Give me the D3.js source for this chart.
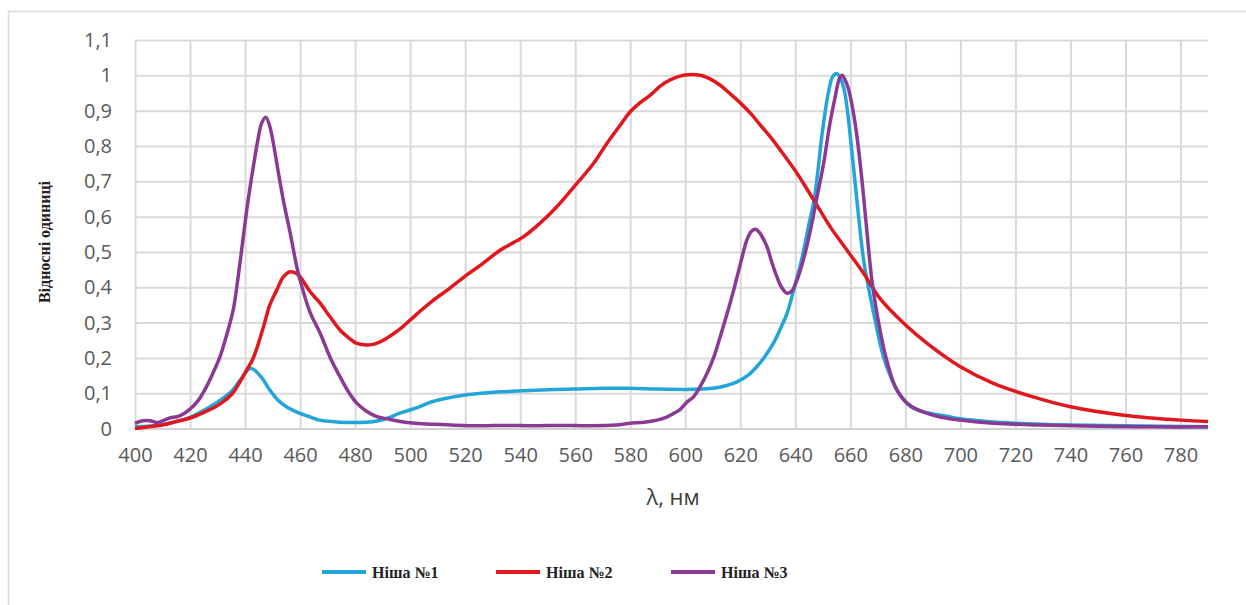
<!DOCTYPE html>
<html>
<head>
<meta charset="utf-8">
<script src="https://cdn.jsdelivr.net/npm/d3@7"></script>
<style>
  body { margin: 0; background: #fff; }
  svg { display: block; }
</style>
</head>
<body>
<div id="chart"></div>
<script>
// tick labels
const xTicks = [400, 420, 440, 460, 480, 500, 520, 540, 560, 580, 600, 620, 640, 660, 680, 700, 720, 740, 760, 780];
const yTicks = [0, 0.1, 0.2, 0.3, 0.4, 0.5, 0.6, 0.7, 0.8, 0.9, 1, 1.1];

// Ніша №1 (blue)
const wl1 = [400, 410, 420, 425, 430, 435, 438, 442, 446, 449, 452, 455, 460, 464, 467, 472, 479, 487, 492, 496, 502, 508, 514, 520, 526, 533, 541, 550, 560, 570, 580, 590, 600, 606, 610, 615, 619, 623, 626, 629, 632, 635, 637, 640, 642, 645, 647, 650, 652, 653.5, 655, 656.5, 658, 661, 663, 665, 668.5, 672, 675, 677, 682, 688, 695, 700, 710, 720, 730, 740, 760, 780, 790];
const niche1 = [0.005, 0.012, 0.032, 0.052, 0.075, 0.105, 0.135, 0.171, 0.145, 0.109, 0.08, 0.062, 0.043, 0.032, 0.024, 0.02, 0.017, 0.02, 0.03, 0.043, 0.058, 0.076, 0.087, 0.095, 0.1, 0.104, 0.107, 0.11, 0.112, 0.114, 0.114, 0.112, 0.111, 0.112, 0.114, 0.122, 0.133, 0.152, 0.175, 0.205, 0.241, 0.29, 0.326, 0.41, 0.468, 0.58, 0.656, 0.85, 0.95, 0.995, 1.005, 0.99, 0.95, 0.751, 0.6, 0.468, 0.326, 0.204, 0.14, 0.109, 0.062, 0.045, 0.035, 0.028, 0.02, 0.015, 0.012, 0.01, 0.008, 0.006, 0.005];

// Ніша №2 (red)
const wl2 = [400, 405, 410, 415, 420, 427, 431, 435.5, 438, 440.6, 443, 446.7, 449, 451.5, 454, 456.4, 458.5, 460, 463.6, 467.3, 471, 474.5, 478, 480.6, 485.5, 488, 491.5, 496, 500, 504, 508.5, 514, 520.6, 526, 532.7, 541.2, 547, 553.3, 560.6, 566.7, 571.5, 576, 580, 584, 587.3, 591, 594.5, 599.4, 605.5, 609, 612.7, 616, 620, 624, 627.3, 631, 634.5, 640.6, 646.7, 652.7, 658.8, 664.8, 670.9, 679.4, 687.9, 700, 712, 725.5, 740, 759.4, 780, 790];
const niche2 = [0.0, 0.005, 0.01, 0.02, 0.03, 0.053, 0.07, 0.1, 0.13, 0.166, 0.2, 0.288, 0.35, 0.392, 0.43, 0.444, 0.44, 0.43, 0.388, 0.355, 0.315, 0.279, 0.255, 0.241, 0.237, 0.242, 0.256, 0.28, 0.307, 0.335, 0.364, 0.395, 0.435, 0.465, 0.505, 0.543, 0.58, 0.628, 0.694, 0.751, 0.807, 0.855, 0.897, 0.925, 0.944, 0.97, 0.987, 1.0, 1.0, 0.99, 0.972, 0.95, 0.922, 0.89, 0.859, 0.825, 0.789, 0.723, 0.647, 0.571, 0.505, 0.44, 0.367, 0.298, 0.241, 0.175, 0.128, 0.092, 0.062, 0.038, 0.024, 0.02];

// Ніша №3 (purple)
const wl3 = [400, 403, 405.5, 408, 410, 412.7, 416, 420, 423, 426, 428.5, 430.9, 433.5, 435.8, 437.5, 439.4, 441, 443, 444.5, 446, 447.6, 449, 450.3, 452, 453.9, 456.5, 458.8, 460, 463.6, 467.3, 471, 474.5, 477.5, 480.6, 484, 487.9, 492, 496.4, 502, 508.5, 515, 525, 535, 545, 555, 565, 575, 580, 585, 589.7, 593, 595.8, 598, 600.6, 603, 605.5, 607.9, 610.5, 612.7, 615, 617.6, 620, 622.4, 624, 625.5, 627, 628.5, 629.7, 631.5, 633.3, 635, 637, 638.8, 640.6, 643, 645.5, 648, 650.3, 652.5, 654.5, 656, 657, 658.5, 660, 662, 664, 666, 668, 671, 673, 675.8, 678, 680.6, 684, 687.9, 693, 700, 712, 729, 750, 770, 790];
const niche3 = [0.015, 0.022, 0.022, 0.017, 0.022, 0.03, 0.035, 0.055, 0.08, 0.119, 0.16, 0.204, 0.27, 0.34, 0.43, 0.545, 0.64, 0.741, 0.81, 0.864, 0.881, 0.855, 0.807, 0.73, 0.647, 0.55, 0.458, 0.42, 0.33, 0.27, 0.2, 0.147, 0.105, 0.072, 0.05, 0.034, 0.027, 0.02, 0.015, 0.012, 0.01, 0.008, 0.009, 0.008, 0.009, 0.008, 0.01, 0.015, 0.018, 0.024, 0.032, 0.043, 0.053, 0.075, 0.09, 0.12, 0.156, 0.205, 0.26, 0.32, 0.392, 0.465, 0.534, 0.558, 0.564, 0.555, 0.535, 0.515, 0.47, 0.43, 0.4, 0.383, 0.39, 0.42, 0.48, 0.562, 0.66, 0.751, 0.86, 0.939, 0.99, 1.0, 0.98, 0.94, 0.85, 0.72, 0.56, 0.41, 0.27, 0.2, 0.128, 0.095, 0.072, 0.055, 0.043, 0.032, 0.024, 0.015, 0.01, 0.007, 0.005, 0.005];

const seriesNames = ["Ніша №1", "Ніша №2", "Ніша №3"];
const seriesColors = ["#22a6da", "#e0171c", "#8b3a94"];

const series = [
  { name: seriesNames[0], color: seriesColors[0], pts: wl1.map((w, i) => [w, niche1[i]]) },
  { name: seriesNames[1], color: seriesColors[1], pts: wl2.map((w, i) => [w, niche2[i]]) },
  { name: seriesNames[2], color: seriesColors[2], pts: wl3.map((w, i) => [w, niche3[i]]) }
];

const W = 1246, H = 605;
const margin = { top: 40, right: 38, bottom: 176.4, left: 135 };
const width = W - margin.left - margin.right,
      height = H - margin.top - margin.bottom;

const svg = d3.select("#chart").append("svg")
  .attr("width", W)
  .attr("height", H);

// outer chart frame
svg.append("rect")
  .attr("x", 8.5).attr("y", 11.5)
  .attr("width", W + 20).attr("height", H + 20)
  .attr("fill", "none")
  .attr("stroke", "#d9d9d9")
  .attr("stroke-width", 1.5);

const g = svg.append("g")
  .attr("transform", `translate(${margin.left},${margin.top})`);

const x = d3.scaleLinear().domain([400, 790]).range([0, width]);
const y = d3.scaleLinear().domain([0, 1.1]).range([height, 0]);

// grid
g.append("g")
  .attr("class", "grid")
  .call(d3.axisLeft(y).tickValues(yTicks).tickSize(-width).tickFormat(""))
  .call(s => s.select(".domain").remove())
  .selectAll("line")
  .attr("stroke", "#d9d9d9")
  .attr("stroke-width", 2);

g.append("g")
  .attr("class", "grid")
  .call(d3.axisBottom(x).tickValues(xTicks).tickSize(height).tickFormat(""))
  .call(s => s.select(".domain").remove())
  .selectAll("line")
  .attr("stroke", "#d9d9d9")
  .attr("stroke-width", 2);

// y axis labels
const fmt = d => String(+d.toFixed(1)).replace(".", ",");
g.append("g")
  .call(d3.axisLeft(y).tickValues(yTicks).tickSize(0).tickPadding(23).tickFormat(fmt))
  .call(s => s.select(".domain").remove())
  .selectAll("text")
  .attr("fill", "#595959")
  .style("font-family", "'Open Sans', sans-serif")
  .style("font-size", "20px");

// x axis
g.append("g")
  .attr("transform", `translate(0,${height})`)
  .call(d3.axisBottom(x).tickValues(xTicks).tickSize(0).tickPadding(19).tickFormat(d3.format("d")))
  .call(s => s.select(".domain").attr("stroke", "#d0d0d0").attr("stroke-width", 2))
  .selectAll("text")
  .attr("fill", "#595959")
  .style("font-family", "'Open Sans', sans-serif")
  .style("font-size", "20px");

// axis titles
svg.append("text")
  .attr("x", 673).attr("y", 505)
  .attr("text-anchor", "middle")
  .attr("fill", "#404040")
  .style("font-family", "'Open Sans', sans-serif")
  .style("font-size", "22px")
  .text("λ, нм");

svg.append("text")
  .attr("transform", "translate(50,242) rotate(-90)")
  .attr("text-anchor", "middle")
  .attr("fill", "#222")
  .style("font-family", "'Liberation Serif', serif")
  .style("font-weight", "bold")
  .style("font-size", "16px")
  .text("Відносні одиниці");

// lines
const line = d3.line()
  .x(d => x(d[0]))
  .y(d => y(d[1]))
  .curve(d3.curveCatmullRom.alpha(0.5));

g.selectAll(".series")
  .data(series)
  .enter().append("path")
  .attr("class", "series")
  .attr("fill", "none")
  .attr("stroke", d => d.color)
  .attr("stroke-width", 3.5)
  .attr("stroke-linejoin", "round")
  .attr("d", d => line(d.pts));

// legend
const legendX = [322, 496, 671];
const leg = svg.selectAll(".legend")
  .data(series)
  .enter().append("g")
  .attr("class", "legend")
  .attr("transform", (d, i) => `translate(${legendX[i]},572)`);

leg.append("line")
  .attr("x1", 0).attr("x2", 44)
  .attr("stroke", d => d.color)
  .attr("stroke-width", 4);

leg.append("text")
  .attr("x", 50).attr("y", 5.5)
  .attr("fill", "#222")
  .style("font-family", "'Liberation Serif', serif")
  .style("font-weight", "bold")
  .style("font-size", "16px")
  .text(d => d.name);
</script>
</body>
</html>
